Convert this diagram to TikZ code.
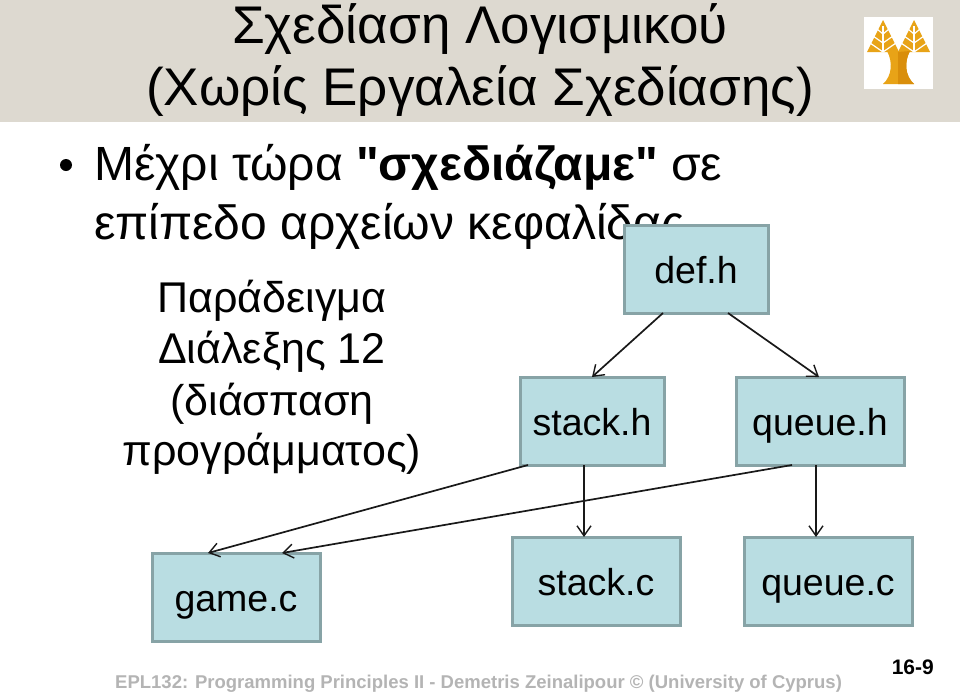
\documentclass[tikz,border=0pt]{standalone}
\usepackage{fontspec}
\setmainfont[Ligatures=TeXOff]{Liberation Sans}
\usetikzlibrary{arrows.meta}
\definecolor{band}{HTML}{DDD9D0}
\definecolor{boxfill}{HTML}{B9DDE2}
\definecolor{boxline}{HTML}{87A3A6}
\definecolor{foot}{HTML}{B4B4B4}
\definecolor{gold}{HTML}{E8A317}
\definecolor{golddk}{HTML}{D98E0B}
\tikzset{
  x=1pt,y=-1pt,
  title/.style={anchor=base,font=\fontsize{53}{53}\selectfont,inner sep=0pt},
  body/.style={anchor=base west,font=\fontsize{48}{48}\selectfont,inner sep=0pt},
  side/.style={anchor=base,font=\fontsize{43}{43}\selectfont,inner sep=0pt},
  filebox/.style={draw=boxline,line width=3pt,fill=boxfill,inner sep=0pt,outer sep=0pt,font=\fontsize{37.5}{38}\selectfont,text height=36pt,text depth=8pt},
  conn/.style={draw=black!90,line width=1.7pt,-{Straight Barb[length=10pt,width=14pt,line width=1.4pt]}},
}
\begin{document}
\begin{tikzpicture}
\useasboundingbox (0,0) rectangle (960,694);
\fill[white] (0,0) rectangle (960,694);
\fill[band] (0,0) rectangle (960,122);
\node[title] (t1) at (480,43) {Σχεδίαση Λογισμικού};
\node[title] (t2) at (480,105) {(Χωρίς Εργαλεία Σχεδίασης)};
% logo
\fill[white] (864,17) rectangle (933,89);
\fill[gold] (883,20) -- (899,52) -- (867,52) -- cycle;
\fill[gold] (914,20) -- (930,52) -- (898,52) -- cycle;
\foreach \c in {883,914}{
  \draw[white,line width=1.2pt] (\c,26) -- (\c,52);
  \draw[white,line width=1.2pt] (\c,34) -- (\c-6,29) (\c,34) -- (\c+6,29)
    (\c,43) -- (\c-10,36) (\c,43) -- (\c+10,36)
    (\c,52) -- (\c-13,43) (\c,52) -- (\c+13,43);
}
\fill[gold] (887,51) -- (910,51)
  .. controls (904,62) and (905,76) .. (914,84) -- (883,84)
  .. controls (892,76) and (893,62) .. (887,51) -- cycle;
\fill[golddk] (898,52) -- (910,51) .. controls (904,62) and (905,76) .. (914,84) -- (898,84) -- cycle;
% bullet text
\fill (66,165) circle (6);
\node[body] (b1) at (94,180) {Μέχρι τώρα \textbf{"σχεδιάζαμε"} σε};
\node[body] (b2) at (94,239) {επίπεδο αρχείων κεφαλίδας};
\node[side] (s1) at (272,312) {Παράδειγμα};
\node[side] (s2) at (272,363) {Διάλεξης 12};
\node[side] (s3) at (272,415) {(διάσπαση};
\node[side] (s4) at (272,465) {προγράμματος)};
% boxes
\node[filebox,minimum width=144pt,minimum height=88pt] (defh) at (696,269) {def.h};
\node[filebox,minimum width=144pt,minimum height=88pt] (stackh) at (592,421) {stack.h};
\node[filebox,minimum width=168pt,minimum height=88pt] (queueh) at (820,421) {queue.h};
\node[filebox,minimum width=168pt,minimum height=88pt] (gamec) at (236,597) {game.c};
\node[filebox,minimum width=168pt,minimum height=88pt] (stackc) at (596,581) {stack.c};
\node[filebox,minimum width=168pt,minimum height=88pt] (queuec) at (828,581) {queue.c};
% connectors
\draw[conn] ([xshift=39pt]defh.south west) -- (stackh.north);
\draw[conn] ([xshift=104pt]defh.south west) -- ([xshift=83pt]queueh.north west);
\draw[conn] ([xshift=8pt]stackh.south west) -- ([xshift=56pt]gamec.north west);
\draw[conn] ([xshift=56pt]queueh.south west) -- ([xshift=130pt]gamec.north west);
\draw[conn] ([xshift=64pt]stackh.south west) -- ([xshift=72pt]stackc.north west);
\draw[conn] ([xshift=80pt]queueh.south west) -- ([xshift=72pt]queuec.north west);
% footer
\node[anchor=base west,inner sep=0pt,text=foot,font=\fontsize{18.5}{20}\selectfont\bfseries] (foottext) at (115,688) {EPL132: Programming Principles II - Demetris Zeinalipour © (University of Cyprus)};
\node[anchor=base east,inner sep=0pt,font=\fontsize{21}{21}\selectfont\bfseries] (pageno) at (934,674) {16-9};
\end{tikzpicture}
\end{document}
